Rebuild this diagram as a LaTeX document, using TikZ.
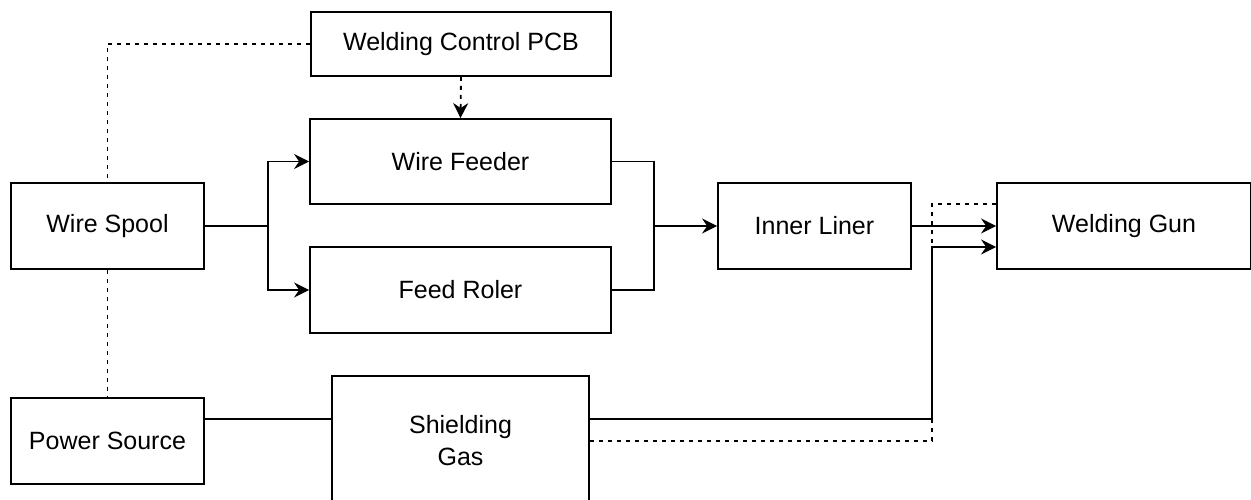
\documentclass[tikz,border=0pt]{standalone}
\usepackage{fontspec}
\setmainfont{Liberation Sans}
\usetikzlibrary{arrows.meta}

\begin{document}
\begin{tikzpicture}[x=1pt,y=-1pt,
    blk/.style={draw,line width=1.8pt,inner sep=0pt,align=center,
      font=\fontsize{25}{32}\selectfont},
    link/.style={line width=1.8pt},
    ctrl/.style={line width=1.8pt,dash pattern=on 4pt off 5pt},
    >={Stealth[length=15pt,width=15pt,inset=5pt]}]
    \useasboundingbox (0,0) rectangle (1251,500);
    % blocks
    \node[blk,minimum width=300pt,minimum height=64pt] (pcb) at (461,44) {Welding Control PCB};
    \node[blk,minimum width=301pt,minimum height=85pt] (feeder) at (460.5,161.5) {Wire Feeder};
    \node[blk,minimum width=301pt,minimum height=86pt] (roler) at (460.5,290) {Feed Roler};
    \node[blk,minimum width=193pt,minimum height=86pt] (spool) at (107.5,226) {Wire Spool};
    \node[blk,minimum width=193pt,minimum height=86pt] (liner) at (814.5,226) {Inner Liner};
    \node[blk,minimum width=254pt,minimum height=86pt] (gun) at (1124,226) {Welding Gun};
    \node[blk,minimum width=193pt,minimum height=86pt] (power) at (107.5,441) {Power Source};
    \node[blk,minimum width=257pt,minimum height=130pt] (gas) at (460.5,441) {Shielding\\Gas};
    % branch points
    \coordinate (split) at (268,226);
    \coordinate (merge) at (654,226);
    \coordinate (tap) at (932,0);
    \coordinate (pwrout) at ([yshift=22pt]power.east);
    \coordinate (gasout) at ([yshift=22pt]gas.east);
    \coordinate (gunhigh) at ([yshift=22pt]gun.west);
    \coordinate (gunlow) at ([yshift=-21pt]gun.west);
    % control lines
    \draw[ctrl] (pcb.west) -| (spool.north);
    \draw[ctrl,->] (pcb.south) -- (feeder.north);
    \draw[ctrl] (spool.south) -- (power.north);
    % wire path
    \draw[link] (spool.east) -- (split);
    \draw[link,->] (split) |- (feeder.west);
    \draw[link,->] (split) |- (roler.west);
    \draw[link] (feeder.east) -| (merge) |- (roler.east);
    \draw[link,->] (merge) -- (liner.west);
    \draw[link,->] (liner.east) -- (gun.west);
    % gas and power
    \draw[link] (pwrout) -- (pwrout -| gas.west);
    \draw[link,->] (gasout) -| (tap |- gunlow) -- (gunlow);
    \draw[ctrl] (gas.east) -| (tap |- gunhigh) -- (gunhigh);
\end{tikzpicture}
\end{document}
